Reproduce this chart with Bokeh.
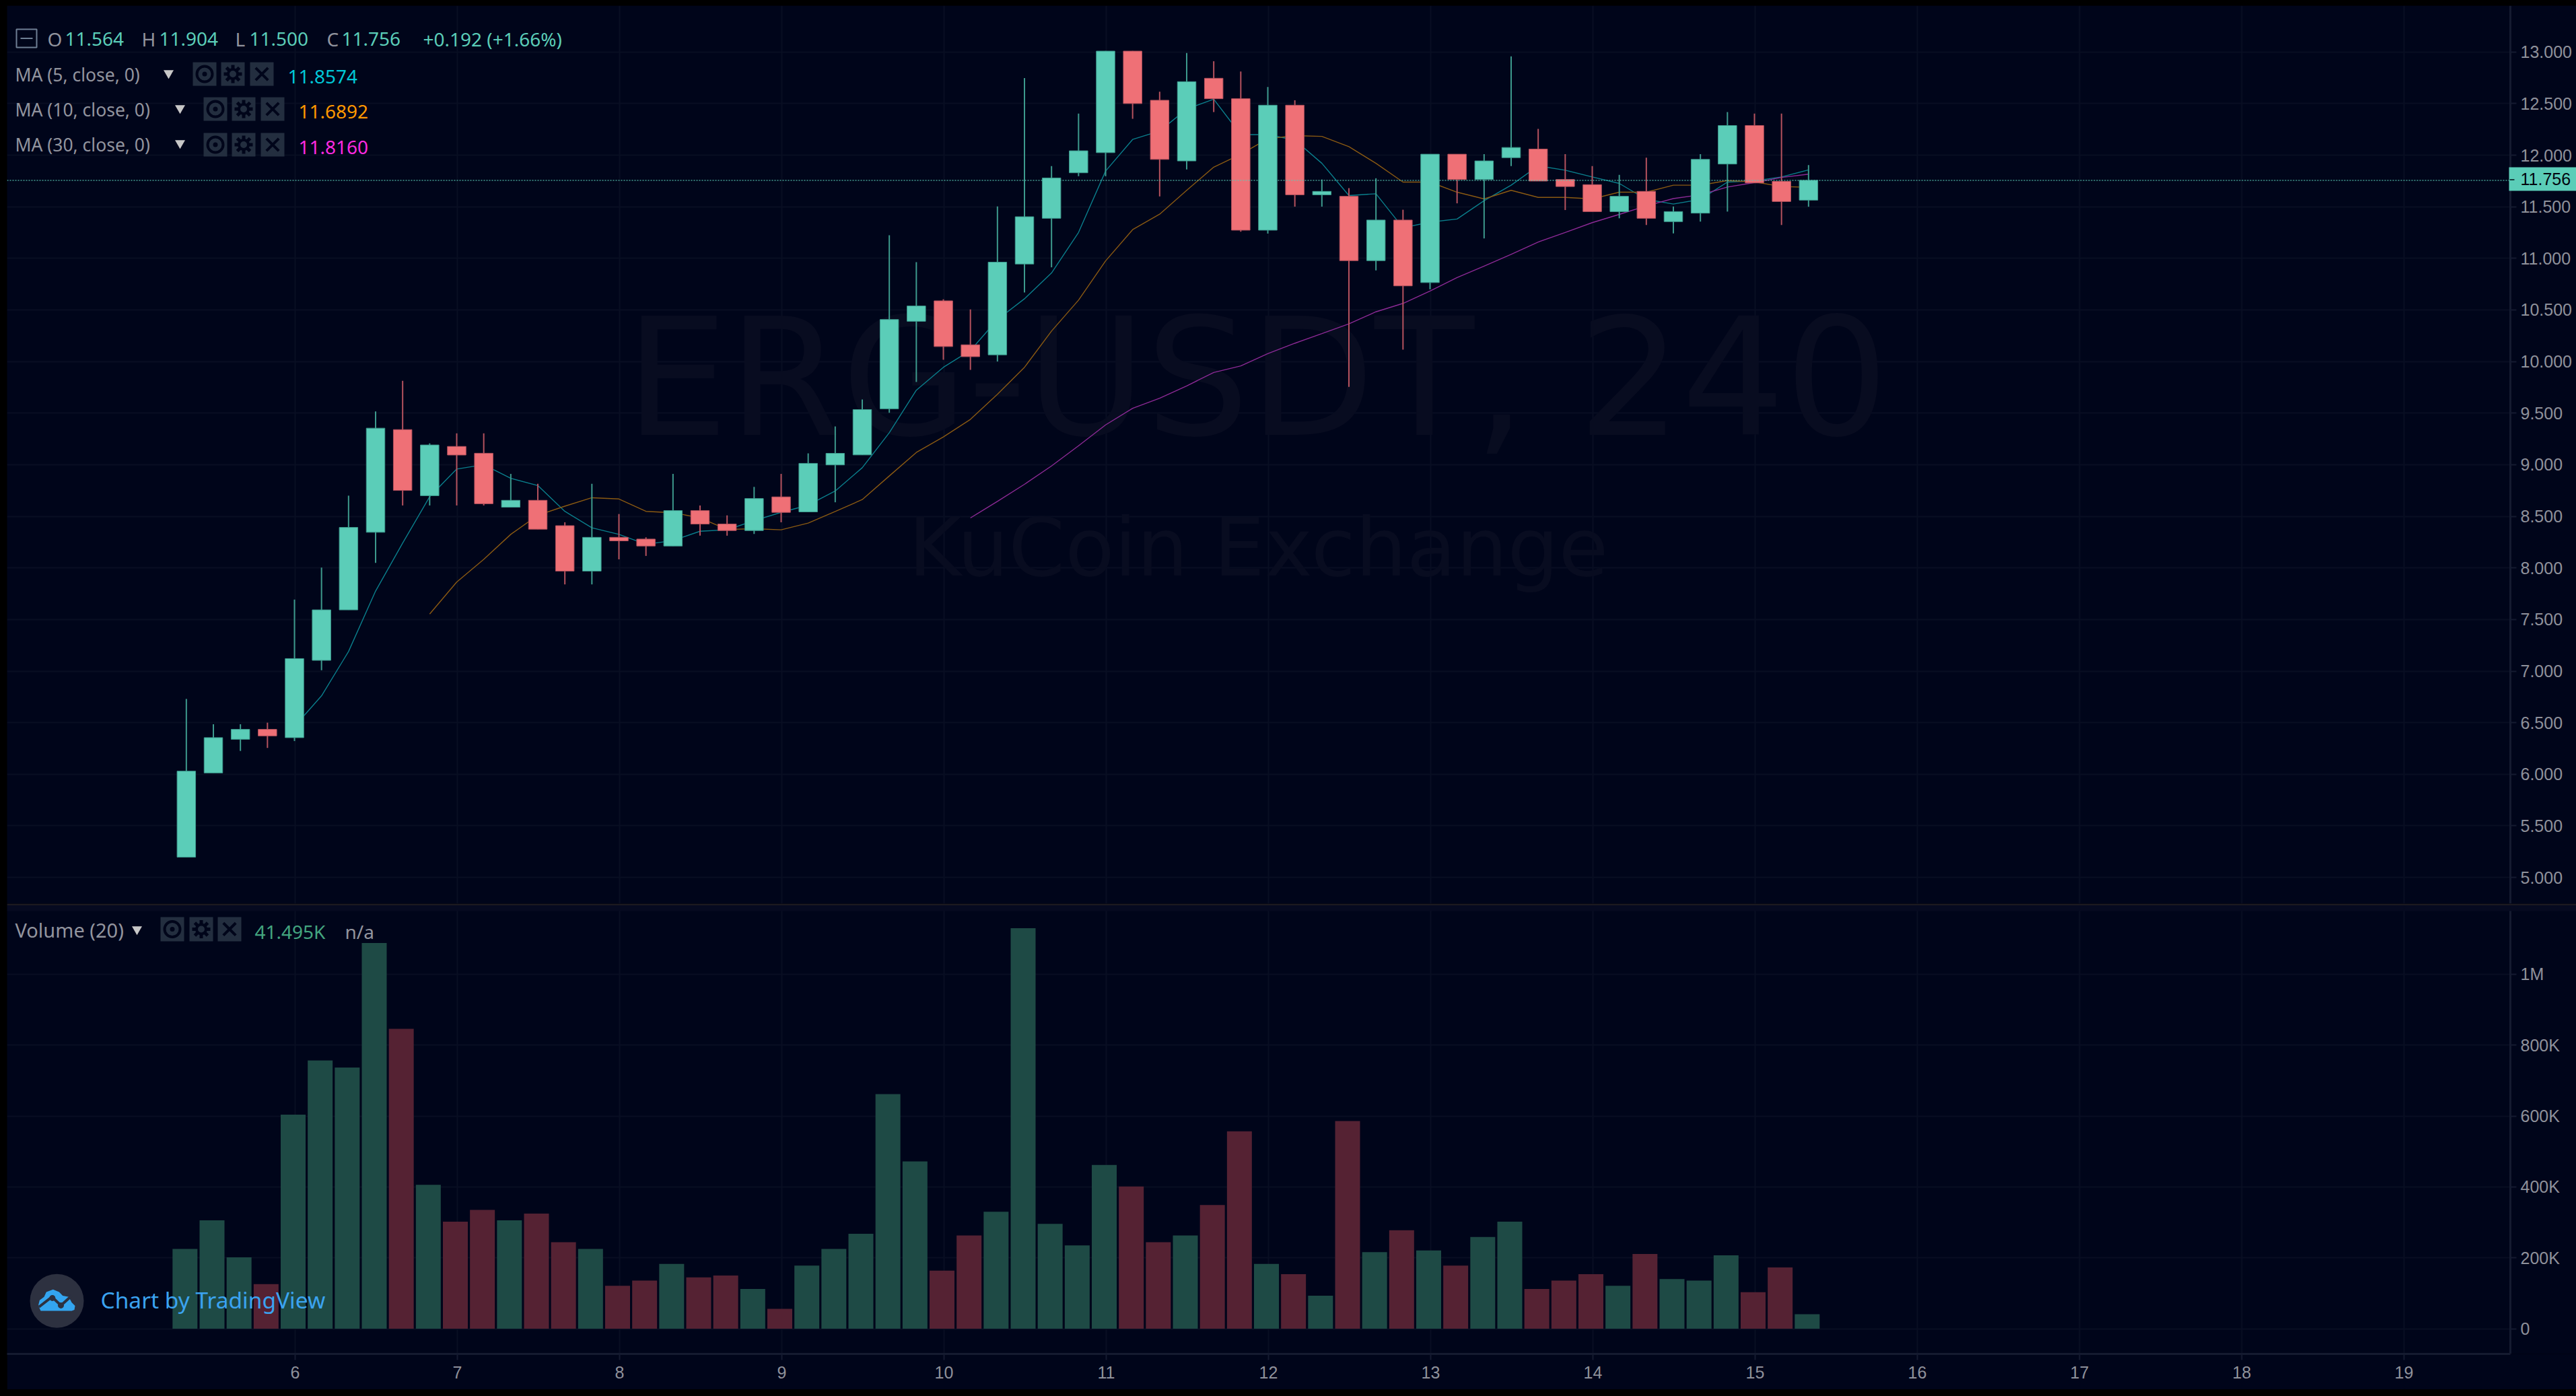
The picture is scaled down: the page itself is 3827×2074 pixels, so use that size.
from bokeh.plotting import figure
from bokeh.layouts import column
from bokeh.models import Range1d, FixedTicker, Label, BoxAnnotation, Span, PrintfTickFormatter
from bokeh.embed import file_html
from bokeh.resources import INLINE

# ---------- data ----------
opens = [5.197,6.013,6.339,6.435,6.355,7.104,7.593,8.345,9.340,8.700,9.177,9.111,8.588,8.655,8.409,7.969,8.296,8.279,8.212,8.555,8.425,8.362,8.688,8.543,8.998,9.095,9.542,10.390,10.588,10.162,10.065,10.945,11.388,11.829,12.024,13.008,12.532,11.944,12.745,12.547,11.273,12.484,11.616,11.601,10.978,11.371,10.765,12.009,11.764,11.976,12.059,11.764,11.714,11.453,11.649,11.356,11.438,11.914,12.287,11.746,11.564]
highs = [6.730,6.485,6.485,6.500,7.693,8.003,8.700,9.517,9.813,9.207,9.304,9.304,8.911,8.815,8.442,8.815,8.522,8.296,8.911,8.605,8.509,8.785,8.911,9.110,9.371,9.632,11.223,10.963,10.603,10.505,11.503,12.747,11.894,12.402,13.010,13.010,12.615,12.990,12.910,12.810,12.660,12.532,11.764,11.681,11.776,11.471,12.009,12.009,12.009,12.957,12.254,12.009,11.894,11.809,11.976,11.503,12.009,12.417,12.402,12.402,11.904]
lows = [5.197,6.013,6.226,6.255,6.322,7.008,7.593,8.049,8.605,8.605,8.605,8.605,8.588,8.375,7.840,7.840,8.083,8.116,8.212,8.312,8.312,8.329,8.442,8.543,8.636,9.095,9.504,9.802,10.017,9.919,10.000,10.670,10.913,11.796,11.796,12.352,11.600,11.861,12.417,11.258,11.240,11.501,11.501,9.754,10.883,10.115,10.700,11.533,11.193,11.894,11.749,11.468,11.453,11.388,11.323,11.241,11.356,11.453,11.731,11.323,11.500]
closes = [6.030,6.355,6.435,6.372,7.121,7.593,8.392,9.354,8.751,9.191,9.094,8.622,8.655,8.375,7.969,8.296,8.262,8.212,8.555,8.425,8.362,8.672,8.538,9.013,9.110,9.534,10.407,10.538,10.145,10.047,10.963,11.403,11.779,12.042,13.008,12.500,11.959,12.712,12.547,11.273,12.484,11.616,11.649,10.978,11.371,10.733,12.009,11.764,11.944,12.074,11.749,11.696,11.453,11.601,11.388,11.453,11.959,12.287,11.731,11.551,11.756]
volumes = [.225,.306,.2015,.126,.604,.757,.737,1.088,.846,.406,.302,.335,.306,.325,.244,.225,.121,.136,.183,.145,.150,.112,.056,.178,.225,.268,.662,.472,.164,.263,.330,1.130,.296,.235,.462,.401,.244,.263,.349,.557,.183,.154,.093,.586,.216,.278,.221,.178,.259,.302,.112,.136,.154,.121,.211,.140,.136,.207,.103,.173,.041]

ma5_start = 4
ma5 = [6.463,6.760,7.190,7.776,8.240,8.690,8.958,9.000,8.868,8.798,8.548,8.389,8.325,8.229,8.265,8.355,8.369,8.458,8.538,8.608,8.745,8.971,9.310,9.722,9.944,10.107,10.407,10.608,10.858,11.251,11.846,12.152,12.234,12.447,12.542,12.199,12.199,12.147,11.921,11.609,11.626,11.296,11.351,11.381,11.559,11.709,11.896,11.854,11.789,11.726,11.571,11.526,11.571,11.739,11.751,11.789,11.857]
ma10_start = 9
ma10 = [7.553,7.863,8.083,8.325,8.510,8.598,8.680,8.668,8.548,8.535,8.485,8.372,8.380,8.369,8.434,8.547,8.662,8.891,9.119,9.269,9.439,9.682,9.944,10.295,10.595,10.975,11.278,11.428,11.659,11.884,12.009,12.159,12.189,12.182,12.082,11.921,11.739,11.739,11.641,11.576,11.659,11.591,11.591,11.576,11.641,11.641,11.709,11.709,11.754,11.741,11.696,11.689]
ma30_start = 29
ma30 = [8.484,8.645,8.810,8.988,9.184,9.386,9.547,9.644,9.764,9.894,9.957,10.077,10.177,10.270,10.365,10.482,10.563,10.683,10.813,10.925,11.038,11.158,11.251,11.346,11.426,11.508,11.579,11.616,11.691,11.734,11.784,11.816]

price_ticks = [5,5.5,6,6.5,7,7.5,8,8.5,9,9.5,10,10.5,11,11.5,12,12.5,13]
volume_ticks = {0:"0",0.2:"200K",0.4:"400K",0.6:"600K",0.8:"800K",1.0:"1M"}
day_ticks = list(range(6,20))
last_price = 11.756

# ---------- style ----------
BG="#00051a"; GRID="#080e22"; AXIS="#151b30"; TICKTXT="#8f919b"; UP="#5bcdb8"; DOWN="#ef7076"
UPW="#3d9a8d"; DOWNW="#b5525e"; UPV="#1e4a45"; DOWNV="#552233"; CHIP="#232e3f"; TXT="#92949e"
TEAL="#5bcdb8"; WM="#080c20"; SANS="Noto Sans"

FRAME_L,AXIS_X,PAGE_R=10,3729,3827
TOP,SPLIT,AXIS_Y,BOTTOM=8,1342,2011.5,2064.5
def fx(px): return 6+(px-438)/241
def fy(py): return 13+(76.7-py)/153.3
def gy(py): return (1974-py)/527

xs=[5+(2+i)/6-1/241 for i in range(len(opens))]
xr=Range1d(fx(FRAME_L),fx(PAGE_R))
W=PAGE_R-FRAME_L

def base(h,yr,bottom):
    f=figure(width=W,height=h,x_range=xr,y_range=yr,output_backend="svg",toolbar_location=None,
             y_axis_location="right",min_border_left=0,min_border_top=0,min_border_right=0,min_border_bottom=bottom)
    f.background_fill_color=BG; f.border_fill_color=BG; f.outline_line_color=None
    f.xgrid.ticker=FixedTicker(ticks=day_ticks); f.xaxis.ticker=FixedTicker(ticks=day_ticks)
    f.xgrid.grid_line_color=GRID; f.ygrid.grid_line_color=GRID
    f.xgrid.grid_line_width=2; f.ygrid.grid_line_width=2
    f.yaxis.fixed_location=fx(AXIS_X)
    f.xaxis.bounds=(fx(FRAME_L),fx(AXIS_X))
    for a in list(f.yaxis)+list(f.xaxis):
        a.axis_line_color=AXIS; a.axis_line_width=3; a.major_tick_line_color=AXIS; a.major_tick_line_width=2
        a.major_tick_in=0; a.major_tick_out=9; a.minor_tick_line_color=None
        a.major_label_text_color=TICKTXT; a.major_label_text_font="Liberation Sans"; a.major_label_text_font_size="25px"
        a.major_label_standoff=6
    return f

def lab(f,conv,x,y,text,color=TXT,size="28px",font=SANS,level="overlay",align="left",**kw):
    f.add_layout(Label(x=fx(x),y=conv(y),text=text,text_color=color,text_font_size=size,text_font=font,
                       text_baseline="middle",text_align=align,level=level,**kw))

def chips(f,conv,xpairs,y0,y1):
    cy=conv((y0+y1)/2)
    for n,(a,b) in enumerate(xpairs):
        f.quad(left=fx(a),right=fx(b),top=conv(y0),bottom=conv(y1),fill_color=CHIP,line_color=None)
        cx=fx((a+b)/2)
        if n==0:
            f.scatter([cx],[cy],marker="circle",size=23,fill_color=None,line_color=BG,line_width=4)
            f.scatter([cx],[cy],marker="circle",size=7,fill_color=BG,line_color=None)
        elif n==1:
            f.scatter([cx],[cy],marker="asterisk",size=27,line_color=BG,line_width=5)
            f.scatter([cx],[cy],marker="circle",size=14,fill_color=CHIP,line_color=BG,line_width=4)
        else:
            f.scatter([cx],[cy],marker="x",size=26,line_color=BG,line_width=4)

# ---------- price pane ----------
p=base(SPLIT-TOP,Range1d(fy(SPLIT),fy(TOP)),0)
p.xaxis.visible=False
p.yaxis.ticker=FixedTicker(ticks=price_ticks)
p.yaxis.formatter=PrintfTickFormatter(format="%.3f")
# the grid stops at the axis: the strip right of it is covered
p.quad(left=fx(AXIS_X),right=fx(PAGE_R),top=fy(TOP),bottom=fy(SPLIT),fill_color=BG,line_color=None)

lab(p,fy,1867,561,"ERG-USDT, 240",WM,"242px","DejaVu Sans","underlay","center")
lab(p,fy,1869,813,"KuCoin Exchange",WM,"120px","DejaVu Sans","underlay","center")

p.line(xs[ma5_start:],ma5,line_color="#0a7f8c",line_width=1.4)
p.line(xs[ma10_start:],ma10,line_color="#8a5a12",line_width=1.4)
p.line(xs[ma30_start:],ma30,line_color="#8c2a96",line_width=1.4)

is_up=[c>=o for o,c in zip(opens,closes)]
body_w=27.5/241
p.segment(xs,lows,xs,highs,line_color=[UPW if u else DOWNW for u in is_up],line_width=2)
p.vbar(x=xs,width=body_w,bottom=[min(o,c) for o,c in zip(opens,closes)],top=[max(o,c) for o,c in zip(opens,closes)],
       fill_color=[UP if u else DOWN for u in is_up],line_color=[UPW if u else DOWNW for u in is_up],line_width=1)

p.add_layout(Span(location=last_price,dimension="width",line_color=TEAL,line_alpha=0.75,line_dash="2 2",line_width=1.5))

# header of the price pane
p.quad(left=fx(24),right=fx(54),top=fy(43),bottom=fy(70),fill_color=None,line_color="#6f7f94",line_width=2)
p.segment([fx(30)],[fy(56.5)],[fx(48)],[fy(56.5)],line_color="#6f7f94",line_width=2)
for x,t,c in [(70,"O",TXT),(96,"11.564",TEAL),(210,"H",TXT),(236,"11.904",TEAL),(349,"L",TXT),(370,"11.500",TEAL),
              (485,"C",TXT),(507,"11.756",TEAL),(628,"+0.192 (+1.66%)",TEAL)]:
    lab(p,fy,x,57,t,c)
lab(p,fy,22,110,"MA (5, close, 0)",size="26.5px")
lab(p,fy,22,162,"MA (10, close, 0)",size="26.5px")
lab(p,fy,22,214,"MA (30, close, 0)",size="26.5px")
lab(p,fy,427,113,"11.8574","#00c8d8")
lab(p,fy,443,165,"11.6892","#ff9800")
lab(p,fy,443,218,"11.8160","#ff2ae0")
p.scatter([fx(250),fx(267),fx(267)],[fy(108),fy(160),fy(212)],marker="inverted_triangle",size=15,fill_color="#c8c8c8",line_color=None)
chips(p,fy,[(286,321),(328,363),(371,406)],92,127)
chips(p,fy,[(302,337),(344,379),(387,422)],144,179)
chips(p,fy,[(302,337),(344,379),(387,422)],197,232)

# last price tag
p.add_layout(BoxAnnotation(left=fx(AXIS_X-2),right=fx(PAGE_R),top=fy(248),bottom=fy(283),fill_color=TEAL,fill_alpha=1,line_color=None,level="overlay"))
p.add_layout(BoxAnnotation(left=fx(AXIS_X-1),right=fx(AXIS_X+6),top=fy(265.5),bottom=fy(267.5),fill_color="#17403f",fill_alpha=1,line_color=None,level="overlay"))
p.add_layout(Label(x=fx(3744),y=fy(265.5),text="11.756",text_color="#02060f",text_font="Liberation Sans",text_font_size="25px",
                   text_baseline="middle",level="overlay"))

# ---------- volume pane ----------
q=base(int(BOTTOM-SPLIT),Range1d(gy(AXIS_Y),gy(SPLIT)),int(BOTTOM-AXIS_Y))
q.yaxis.ticker=FixedTicker(ticks=list(volume_ticks))
q.yaxis.major_label_overrides=volume_ticks
q.xaxis.major_label_standoff=9
q.quad(left=fx(AXIS_X),right=fx(PAGE_R),top=gy(SPLIT),bottom=gy(AXIS_Y),fill_color=BG,line_color=None)
q.vbar(x=[v-2/241 for v in xs],width=37/241,bottom=0,top=volumes,fill_color=[UPV if u else DOWNV for u in is_up],line_color=None)
q.add_layout(BoxAnnotation(left=fx(FRAME_L),right=fx(PAGE_R),top=gy(SPLIT),bottom=gy(1353),fill_color="#060a20",fill_alpha=1,line_color=None,level="overlay"))
q.add_layout(BoxAnnotation(left=fx(FRAME_L),right=fx(PAGE_R),top=gy(SPLIT),bottom=gy(SPLIT+2.5),fill_color="#1c1a20",fill_alpha=1,line_color=None,level="overlay"))

lab(q,gy,22,1381,"Volume (20)",size="29px")
q.scatter([fx(203)],[gy(1380)],marker="inverted_triangle",size=15,fill_color="#c8c8c8",line_color=None)
chips(q,gy,[(238,273),(281,316),(323,358)],1362,1398)
lab(q,gy,378,1384,"41.495K","#43a47f")
lab(q,gy,512,1384,"n/a")

# logo
q.scatter([fx(84)],[gy(1932.7)],marker="circle",size=80,fill_color="#2d3140",line_color=None)
cloud_x=[170,175,195,205,235,262,278,305,318,333,330,318,180,172]
cloud_y=[235,215,200,178,167,178,195,200,225,240,258,262,262,245]
q.patch([fx(v/3) for v in cloud_x],[gy(1860+v/3) for v in cloud_y],fill_color="#33a5f0",line_color=None)
zig_x=[172,230,270,318]; zig_y=[245,200,238,195]
q.line([fx(v/3) for v in zig_x],[gy(1860+v/3) for v in zig_y],line_color="#2d3140",line_width=4)
q.scatter([fx(232/3),fx(270/3)],[gy(1860+205/3),gy(1860+238/3)],marker="circle",size=9,fill_color="#2d3140",line_color=None)
lab(q,gy,149,1931,"Chart by TradingView","#3ba3f0","33.5px")

page=column(p,q,spacing=0)
html=file_html(page,INLINE,title="ERG-USDT")
html=html.replace("<body>",'<body style="margin:8px 0 0 10px;background:#000000;overflow:hidden">')
open("out.html","w").write(html)
